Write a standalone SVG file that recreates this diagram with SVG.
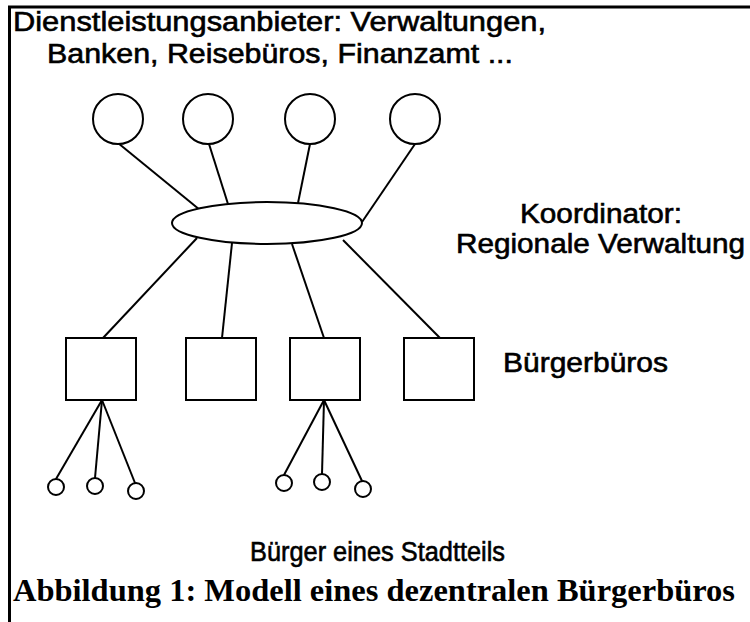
<svg xmlns="http://www.w3.org/2000/svg" width="750" height="622" viewBox="0 0 750 622">
<style>
.s{fill:none;stroke:#000;stroke-width:2}
.n{fill:#fff;stroke:#000;stroke-width:2}
.t{font-family:"Liberation Sans",Arial,sans-serif;font-size:27px;fill:#000;stroke:#000;stroke-width:0.6}
.c{font-family:"Liberation Serif","Times New Roman",serif;font-size:31px;font-weight:bold;fill:#000}
</style>
<rect width="750" height="622" fill="#fff"/>
<g id="frame">
<line x1="8" y1="7" x2="750" y2="7" stroke="#000" stroke-width="3"/>
<line x1="9.5" y1="6" x2="9.5" y2="622" stroke="#000" stroke-width="3"/>
</g>
<g id="connectors" class="s">
<line x1="118" y1="143" x2="200" y2="210"/>
<line x1="209" y1="144" x2="228" y2="204"/>
<line x1="310" y1="144" x2="298" y2="203"/>
<line x1="415" y1="144" x2="362" y2="222"/>
<line x1="103" y1="338" x2="197" y2="238"/>
<line x1="222" y1="338" x2="232" y2="243"/>
<line x1="324" y1="338" x2="292" y2="244"/>
<line x1="440" y1="338" x2="343" y2="240"/>
<line x1="102" y1="400" x2="56" y2="479"/>
<line x1="102" y1="400" x2="95" y2="478"/>
<line x1="102" y1="400" x2="135" y2="483"/>
<line x1="324" y1="400" x2="284" y2="475"/>
<line x1="324" y1="400" x2="322" y2="474"/>
<line x1="324" y1="400" x2="362" y2="481"/>
</g>
<g id="provider1"><circle class="n" cx="118" cy="119" r="25"/></g>
<g id="provider2"><circle class="n" cx="208" cy="119" r="25"/></g>
<g id="provider3"><circle class="n" cx="310" cy="119" r="25"/></g>
<g id="provider4"><circle class="n" cx="415" cy="119" r="25"/></g>
<g id="coordinator"><ellipse class="n" cx="267" cy="223" rx="95" ry="21"/></g>
<g id="office1"><rect class="n" x="66" y="338" width="70" height="62"/></g>
<g id="office2"><rect class="n" x="186" y="338" width="70" height="62"/></g>
<g id="office3"><rect class="n" x="290" y="338" width="70" height="62"/></g>
<g id="office4"><rect class="n" x="404" y="338" width="70" height="62"/></g>
<g id="citizen1"><circle class="n" cx="56" cy="487" r="8"/></g>
<g id="citizen2"><circle class="n" cx="95" cy="486" r="8"/></g>
<g id="citizen3"><circle class="n" cx="136" cy="491" r="8"/></g>
<g id="citizen4"><circle class="n" cx="284" cy="483" r="8"/></g>
<g id="citizen5"><circle class="n" cx="322" cy="482" r="8"/></g>
<g id="citizen6"><circle class="n" cx="363" cy="489" r="8"/></g>
<g id="labels">
<text class="t" x="13" y="31" textLength="533" lengthAdjust="spacingAndGlyphs">Dienstleistungsanbieter: Verwaltungen,</text>
<text class="t" x="47" y="63" textLength="466" lengthAdjust="spacingAndGlyphs">Banken, Reisebüros, Finanzamt ...</text>
<text class="t" x="520" y="223" textLength="162" lengthAdjust="spacingAndGlyphs">Koordinator:</text>
<text class="t" x="456" y="253" textLength="289" lengthAdjust="spacingAndGlyphs">Regionale Verwaltung</text>
<text class="t" x="503" y="372" textLength="165" lengthAdjust="spacingAndGlyphs">Bürgerbüros</text>
<text class="t" x="250" y="561" textLength="255" lengthAdjust="spacingAndGlyphs">Bürger eines Stadtteils</text>
<text class="c" x="13" y="601" textLength="722" lengthAdjust="spacingAndGlyphs">Abbildung 1: Modell eines dezentralen Bürgerbüros</text>
</g>
</svg>
